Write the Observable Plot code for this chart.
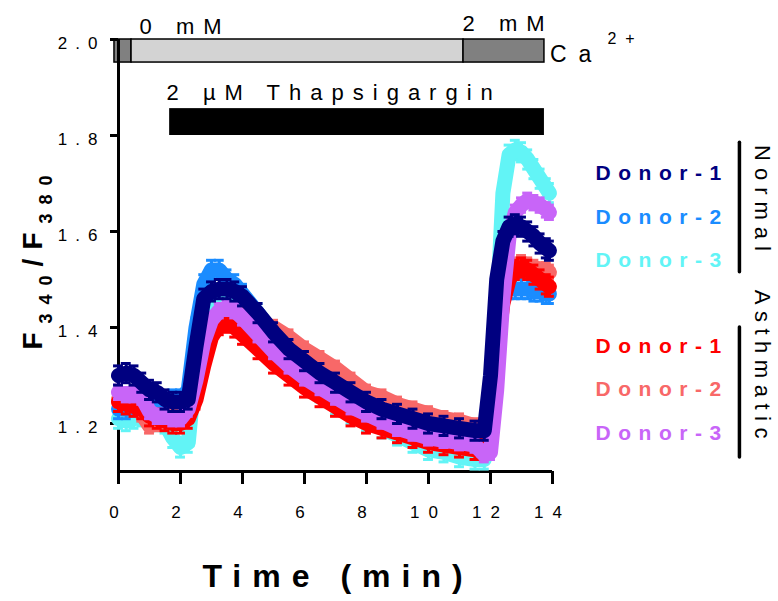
<!DOCTYPE html>
<html>
<head>
<meta charset="utf-8">
<script src="https://cdn.jsdelivr.net/npm/d3@7"></script>
<script src="https://cdn.jsdelivr.net/npm/@observablehq/plot@0.6"></script>
<style>
  html, body { margin: 0; padding: 0; background: #fff; }
  #chart svg { display: block; }
</style>
</head>
<body>
<div id="chart"></div>
<script>
// ---------- data ----------
const times = [0, 0.25, 0.5, 0.75, 1, 1.25, 1.5, 1.75, 2, 2.25, 2.5, 2.75, 3, 3.25, 3.5, 3.75, 4, 4.5, 5, 5.5, 6, 6.5, 7, 7.5, 8, 8.5, 9, 9.5, 10, 10.5, 11, 11.5, 11.8, 12, 12.2, 12.4, 12.6, 12.8, 13, 13.2, 13.4, 13.6, 13.8, 13.9];

const normalDonor1 = [1.30, 1.305, 1.30, 1.285, 1.27, 1.265, 1.25, 1.245, 1.245, 1.25, 1.36, 1.46, 1.475, 1.48, 1.48, 1.475, 1.465, 1.43, 1.39, 1.355, 1.33, 1.305, 1.285, 1.265, 1.245, 1.23, 1.22, 1.21, 1.20, 1.195, 1.19, 1.185, 1.185, 1.30, 1.50, 1.58, 1.61, 1.615, 1.61, 1.60, 1.59, 1.575, 1.565, 1.56];
const normalDonor2 = [1.23, 1.23, 1.235, 1.24, 1.235, 1.235, 1.24, 1.25, 1.25, 1.27, 1.40, 1.49, 1.52, 1.52, 1.50, 1.49, 1.47, 1.43, 1.385, 1.35, 1.32, 1.295, 1.275, 1.255, 1.24, 1.225, 1.215, 1.205, 1.195, 1.19, 1.18, 1.175, 1.175, 1.28, 1.43, 1.47, 1.48, 1.48, 1.48, 1.48, 1.475, 1.475, 1.47, 1.47];
const normalDonor3 = [1.21, 1.205, 1.21, 1.215, 1.21, 1.205, 1.20, 1.17, 1.15, 1.16, 1.33, 1.43, 1.46, 1.47, 1.47, 1.46, 1.44, 1.40, 1.36, 1.32, 1.29, 1.265, 1.24, 1.22, 1.205, 1.19, 1.175, 1.16, 1.145, 1.14, 1.13, 1.125, 1.125, 1.20, 1.42, 1.68, 1.76, 1.77, 1.765, 1.75, 1.73, 1.71, 1.69, 1.68];
const asthmaticDonor1 = [1.245, 1.24, 1.235, 1.23, 1.215, 1.21, 1.205, 1.20, 1.20, 1.21, 1.25, 1.32, 1.38, 1.405, 1.41, 1.40, 1.385, 1.355, 1.325, 1.30, 1.275, 1.255, 1.235, 1.215, 1.20, 1.19, 1.18, 1.17, 1.16, 1.155, 1.15, 1.145, 1.145, 1.20, 1.35, 1.45, 1.50, 1.52, 1.525, 1.52, 1.51, 1.50, 1.49, 1.485];
const asthmaticDonor2 = [1.25, 1.25, 1.245, 1.22, 1.195, 1.20, 1.21, 1.215, 1.22, 1.225, 1.27, 1.33, 1.39, 1.42, 1.43, 1.43, 1.425, 1.41, 1.40, 1.38, 1.355, 1.335, 1.315, 1.29, 1.265, 1.255, 1.24, 1.23, 1.22, 1.21, 1.205, 1.195, 1.19, 1.25, 1.40, 1.48, 1.52, 1.53, 1.535, 1.53, 1.525, 1.52, 1.52, 1.515];
const asthmaticDonor3 = [1.265, 1.26, 1.26, 1.255, 1.225, 1.215, 1.215, 1.21, 1.21, 1.23, 1.29, 1.37, 1.415, 1.435, 1.44, 1.435, 1.42, 1.385, 1.35, 1.32, 1.295, 1.275, 1.255, 1.235, 1.22, 1.205, 1.19, 1.18, 1.17, 1.165, 1.16, 1.155, 1.135, 1.14, 1.27, 1.46, 1.59, 1.64, 1.655, 1.665, 1.66, 1.655, 1.645, 1.64];

const seriesNames = ["Normal Donor-1", "Normal Donor-2", "Normal Donor-3", "Asthmatic Donor-1", "Asthmatic Donor-2", "Asthmatic Donor-3"];
const legendLabels = ["Donor-1", "Donor-2", "Donor-3", "Donor-1", "Donor-2", "Donor-3"];
const groupLabels = ["Normal", "Asthmatic"];
const semValues = [0.02, 0.02, 0.02, 0.02, 0.015, 0.015];

const yTicks = [1.2, 1.4, 1.6, 1.8, 2.0];
const xTicks = [0, 2, 4, 6, 8, 10, 12, 14];

const caStart = [-0.13, 0.42, 11.13];
const caEnd = [0.42, 11.13, 13.74];
const caConc = ["2 mM", "0 mM", "2 mM"];
const caLabels = ["0 mM", "2 mM"];
const thapStart = [1.65];
const thapEnd = [13.74];
const thapLabel = "2 µM Thapsigargin";

// ---------- styling ----------
const colors = ["#000080", "#1a8cff", "#62f4f6", "#ff0000", "#f86868", "#c865f8"];
const drawOrder = [2, 1, 4, 3, 5, 0];
const font = "'Liberation Sans', Arial, Helvetica, sans-serif";

const valuesBySeries = [normalDonor1, normalDonor2, normalDonor3, asthmaticDonor1, asthmaticDonor2, asthmaticDonor3];
const rows = valuesBySeries.map((vals, s) => times.map((t, i) => ({
  series: seriesNames[s], t, v: vals[i], lo: vals[i] - semValues[s], hi: vals[i] + semValues[s]
})));

const capHalf = 0.16;
const seriesMarks = drawOrder.flatMap(s => [
  Plot.ruleX(rows[s], {x: "t", y1: "lo", y2: "hi", stroke: colors[s], strokeWidth: 3}),
  Plot.ruleY(rows[s], {y: "hi", x1: d => d.t - capHalf, x2: d => d.t + capHalf, stroke: colors[s], strokeWidth: 3}),
  Plot.ruleY(rows[s], {y: "lo", x1: d => d.t - capHalf, x2: d => d.t + capHalf, stroke: colors[s], strokeWidth: 3}),
  Plot.line(rows[s], {x: "t", y: "v", stroke: colors[s], strokeWidth: 15, strokeLinecap: "round", strokeLinejoin: "round"})
]);

const caRows = caStart.map((a, i) => ({x1: a, x2: caEnd[i], conc: caConc[i]}));
const thapRows = thapStart.map((a, i) => ({x1: a, x2: thapEnd[i]}));

const legendY = [1.721, 1.629, 1.540, 1.360, 1.271, 1.179];
const legendRows = legendLabels.map((l, i) => ({label: l, y: legendY[i], color: colors[i]}));

const chart = Plot.plot({
  width: 778,
  height: 601,
  marginLeft: 118,
  marginRight: 226,
  marginTop: 39,
  marginBottom: 130,
  x: {domain: [0, 14], label: null},
  y: {domain: [1.1, 2.0], label: null},
  style: {fontFamily: font, background: "white", color: "black", overflow: "visible"},
  marks: [
    // Ca2+ bar
    Plot.rect(caRows, {x1: "x1", x2: "x2", y1: 1.952, y2: 2.0,
      fill: d => d.conc === "0 mM" ? "#d3d3d3" : "#808080", stroke: "black", strokeWidth: 1.5}),
    // thapsigargin bar
    Plot.rect(thapRows, {x1: "x1", x2: "x2", y1: 1.80, y2: 1.856, fill: "black"}),
    // axes
    Plot.axisY(yTicks, {tickSize: 8, tickPadding: 5, strokeWidth: 3, fontSize: 17, tickFormat: d => d.toFixed(1), label: null}),
    Plot.axisX(xTicks, {tickSize: 13, tickPadding: 21, strokeWidth: 3, fontSize: 17, tickFormat: d => String(d), label: null}),
    Plot.ruleX([0], {y1: 1.1, y2: 2.0, strokeWidth: 3}),
    Plot.ruleY([1.1], {x1: 0, x2: 14, strokeWidth: 3}),
    // data
    ...seriesMarks,
    // annotations
    Plot.text([caLabels[0]], {x: 0.68, y: 2.012, text: d => d, textAnchor: "start", lineAnchor: "bottom", fontSize: 22}),
    Plot.text([caLabels[1]], {x: 11.1, y: 2.017, text: d => d, textAnchor: "start", lineAnchor: "bottom", fontSize: 22}),
    Plot.text([thapLabel], {x: 1.55, y: 1.875, text: d => d, textAnchor: "start", lineAnchor: "bottom", fontSize: 22}),
    // legend
    Plot.text(legendRows, {x: 15.39, y: "y", text: "label", fill: "color", textAnchor: "start", lineAnchor: "middle", fontSize: 21, fontWeight: "bold"}),
    Plot.ruleX([20.03], {y1: 1.515, y2: 1.785, strokeWidth: 3.5, strokeLinecap: "round"}),
    Plot.ruleX([20.03], {y1: 1.129, y2: 1.400, strokeWidth: 3.5, strokeLinecap: "round"}),
    Plot.text([groupLabels[0]], {x: 20.77, y: 1.6625, text: d => d, rotate: 90, fontSize: 22, lineAnchor: "middle"}),
    Plot.text([groupLabels[1]], {x: 20.77, y: 1.317, text: d => d, rotate: 90, fontSize: 22, lineAnchor: "middle"})
  ]
});

document.getElementById("chart").appendChild(chart);

// ---------- typographic touches ----------
const svg = d3.select(chart);
svg.selectAll("g[aria-label='y-axis tick label'] text").style("letter-spacing", "8px");
svg.selectAll("g[aria-label='x-axis tick label'] text").style("letter-spacing", "9px");
svg.selectAll("g[aria-label='y-axis tick label']").each(function() {
  const tr = this.getAttribute("transform") || "";
  this.setAttribute("transform", tr + " translate(0,4)");
});
const spacing = {"0 mM": "9px", "2 mM": "9px", [thapLabel]: "9px", "Donor-1": "7.5px", "Donor-2": "7.5px", "Donor-3": "7.5px", "Normal": "7px", "Asthmatic": "6.5px"};
svg.selectAll("text").each(function() {
  const s = spacing[this.textContent];
  if (s) this.style.letterSpacing = s;
});

// Ca2+ label
const ys = chart.scale("y");
const ca = svg.append("text").attr("x", 550).attr("y", ys.apply(1.952))
  .attr("text-anchor", "start")
  .attr("font-family", font).attr("font-size", 23).style("letter-spacing", "12px").attr("fill", "black");
ca.append("tspan").text("Ca");
ca.append("tspan").attr("font-size", 16).attr("dx", 4).attr("dy", -18).style("letter-spacing", "9px").text("2+");

// y-axis title F340/F380
const yt = svg.append("text").attr("transform", "translate(42,258) rotate(-90)")
  .attr("text-anchor", "middle").attr("font-family", font).attr("font-weight", "bold")
  .attr("font-size", 28).style("letter-spacing", "9px").attr("fill", "black");
yt.append("tspan").text("F");
yt.append("tspan").attr("font-size", 18).attr("dy", 10).text("340");
yt.append("tspan").attr("dy", -10).text("/F");
yt.append("tspan").attr("font-size", 18).attr("dy", 10).text("380");

// x-axis title
svg.append("text").attr("x", 338).attr("y", 587).attr("text-anchor", "middle")
  .attr("font-family", font).attr("font-weight", "bold").attr("font-size", 32)
  .style("letter-spacing", "11px").attr("fill", "black").text("Time (min)");
</script>
</body>
</html>
